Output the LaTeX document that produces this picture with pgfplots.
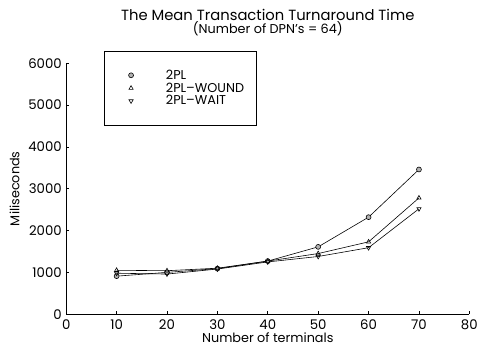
\documentclass[border=0pt]{standalone}
\usepackage{pgfplots}
\pgfplotsset{compat=1.18}
\usepackage{fontspec}
\setmainfont{Poppins}
\begin{document}
\begin{tikzpicture}[x=1bp,y=1bp]
\begin{axis}[
  scale only axis,
  width=408bp, height=254bp,
  xmin=0, xmax=80, ymin=0, ymax=6000,
  axis lines*=left,
  axis line style={-, line width=1.2pt},
  xtick={0,10,...,80},
  ytick={0,1000,...,6000},
  tick align=inside,
  major tick length=3bp,
  tick style={black, line width=0.7pt},
  /pgf/number format/assume math mode=true,
  /pgf/number format/set thousands separator={},
  tick label style={font=\fontsize{13.5}{14}\selectfont},
  xticklabel style={yshift=-5bp, inner ysep=0.5bp},
  yticklabel style={xshift=-1bp},
  xlabel={Number of terminals},
  ylabel={Miliseconds},
  label style={font=\fontsize{13}{14}\selectfont},
  xlabel style={yshift=-1.5bp, inner ysep=0.3bp},
  ylabel style={yshift=2bp},
  clip=false,
  legend style={at={(0.093,1.05)}, anchor=north west, draw=black, line width=0.8pt,
    font=\fontsize{13}{14}\selectfont, inner xsep=11bp, inner ysep=18bp,
    row sep=0bp,
    nodes={inner ysep=0.5bp, inner xsep=1bp, text height=10bp, text depth=2bp},
    /tikz/every odd column/.append style={column sep=20bp},
    /tikz/every even column/.append style={column sep=10bp}},
  legend cell align=left,
  legend image code/.code={\path (0bp,0bp) (30bp,0bp); \draw[#1, only marks] plot coordinates {(16bp,0bp)};},
  every axis plot/.append style={black, line width=0.6pt, mark size=2.5bp},
]
\addplot[mark=*, mark options={fill=gray!60, draw=black}] coordinates {
 (10,910) (20,1000) (30,1090) (40,1270) (50,1610) (60,2320) (70,3460)};
\addlegendentry{2PL}
\addplot[mark=triangle, mark options={draw=black, fill=gray!30, fill opacity=1}] coordinates {
 (10,1050) (20,1040) (30,1100) (40,1270) (50,1450) (60,1730) (70,2780)};
\addlegendentry{2PL--WOUND}
\addplot[mark=triangle, mark options={rotate=180, draw=black, fill=gray!30}] coordinates {
 (10,980) (20,960) (30,1080) (40,1250) (50,1380) (60,1590) (70,2520)};
\addlegendentry{2PL--WAIT}
\node[anchor=south, align=center, font=\fontsize{15}{16}\selectfont] at (rel axis cs:0.5,1) [yshift=40bp] {The Mean Transaction Turnaround Time};
\node[anchor=south, align=center, font=\fontsize{13}{14}\selectfont] at (rel axis cs:0.5,1) [yshift=24bp] {(Number of DPN's = 64)};
\end{axis}
\path[use as bounding box] ([shift={(-67bp,-33bp)}]current axis.south west) rectangle ([shift={(6bp,64bp)}]current axis.north east);
\end{tikzpicture}
\end{document}
